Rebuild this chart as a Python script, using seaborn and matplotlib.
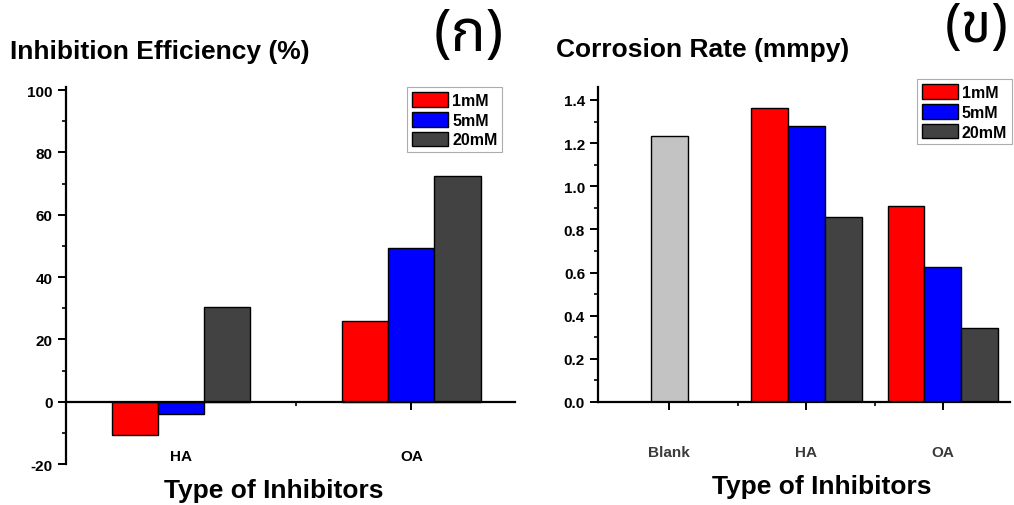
import pandas as pd
import matplotlib
matplotlib.use("Agg")
import matplotlib.pyplot as plt
import seaborn as sns
from matplotlib.patches import Patch

sns.set_theme(style="white")
plt.rcParams['font.family'] = ['Liberation Sans', 'DejaVu Sans']
plt.rcParams['axes.unicode_minus'] = False
plt.rcParams['text.color'] = 'black'
thai_fonts = ['Noto Sans Thai', 'Noto Sans Thai Looped', 'Bai Jamjuree', 'DejaVu Sans']

# -------------------------------
# DATA
# -------------------------------
conc_levels = ["1mM", "5mM", "20mM"]
conc_colors = ["#ff0000", "#0000ff", "#424242"]
blank_color = "#c3c3c3"

ie_inhibitors = ["HA", "OA"]
ie_1mM = [-10.8, 26.0]
ie_5mM = [-3.9, 49.2]
ie_20mM = [30.5, 72.3]

cr_order = ["Blank", "HA", "OA"]
cr_blank = 1.233
cr_inhibitors = ["HA", "OA"]
cr_1mM = [1.362, 0.908]
cr_5mM = [1.278, 0.624]
cr_20mM = [0.856, 0.342]

ie_df = pd.DataFrame({
    "inhibitor": ie_inhibitors * 3,
    "conc": [c for c in conc_levels for _ in ie_inhibitors],
    "value": ie_1mM + ie_5mM + ie_20mM,
})
cr_df = pd.DataFrame({
    "inhibitor": cr_inhibitors * 3,
    "conc": [c for c in conc_levels for _ in cr_inhibitors],
    "value": cr_1mM + cr_5mM + cr_20mM,
})

fig = plt.figure(figsize=(10.14, 5.06), dpi=100)
ax1 = fig.add_axes([0.065, 0.081, 0.443, 0.745])
ax2 = fig.add_axes([0.590, 0.2036, 0.406, 0.6224])


def style_axis(ax):
    for s in ["top", "right"]:
        ax.spines[s].set_visible(False)
    for s in ["left", "bottom"]:
        ax.spines[s].set_color("black")
        ax.spines[s].set_linewidth(1.6)
    ax.tick_params(axis="both", which="both", bottom=True, left=True,
                   direction="out", color="black")
    ax.tick_params(axis="both", which="major", length=6, width=1.4,
                   labelsize=11, labelcolor="black")
    ax.tick_params(axis="both", which="minor", length=3, width=1.2)
    for lab in ax.get_xticklabels() + ax.get_yticklabels():
        lab.set_fontweight("bold")
    ax.set_xlabel("")
    ax.set_ylabel("")


def add_legend(ax, anchor):
    handles = [Patch(facecolor=c, edgecolor="black", linewidth=1.0, label=l)
               for c, l in zip(conc_colors, conc_levels)]
    leg = ax.legend(handles=handles, loc="upper left", bbox_to_anchor=anchor,
                    frameon=True, fancybox=False, fontsize=11.5,
                    handlelength=2.25, handleheight=1.05, labelspacing=0.25,
                    handletextpad=0.25, borderpad=0.3, borderaxespad=0)
    leg.get_frame().set_edgecolor("#999999")
    leg.get_frame().set_linewidth(0.8)
    for t in leg.get_texts():
        t.set_fontweight("bold")


# -------------------------------
# (ก) INHIBITION EFFICIENCY
# -------------------------------
sns.barplot(data=ie_df, x="inhibitor", y="value", hue="conc",
            order=ie_inhibitors, hue_order=conc_levels, palette=conc_colors,
            width=0.6, edgecolor="black", linewidth=1.0, saturation=1,
            errorbar=None, legend=False, ax=ax1)
ax1.set_xlim(-0.5, 1.45)
ax1.set_ylim(-20, 101)
ax1.set_yticks([-20, 0, 20, 40, 60, 80, 100])
ax1.set_yticks([-10, 10, 30, 50, 70, 90], minor=True)
ax1.set_xticks([0.5], minor=True)
ax1.spines["bottom"].set_position(("data", 0))
style_axis(ax1)
ax1.tick_params(axis="x", which="major", pad=28)
add_legend(ax1, (0.76, 1.0))

# -------------------------------
# (ข) CORROSION RATE
# -------------------------------
sns.barplot(data=cr_df, x="inhibitor", y="value", hue="conc",
            order=cr_order, hue_order=conc_levels, palette=conc_colors,
            width=0.81, edgecolor="black", linewidth=1.0, saturation=1,
            errorbar=None, legend=False, ax=ax2)
sns.barplot(x=["Blank"], y=[cr_blank], order=cr_order, color=blank_color,
            width=0.27, edgecolor="black", linewidth=1.0, saturation=1,
            errorbar=None, ax=ax2)
ax2.set_xlim(-0.52, 2.49)
ax2.set_ylim(0, 1.46)
ax2.set_yticks([0.0, 0.2, 0.4, 0.6, 0.8, 1.0, 1.2, 1.4])
ax2.set_yticks([0.1, 0.3, 0.5, 0.7, 0.9, 1.1, 1.3], minor=True)
ax2.set_yticklabels([f"{v:.1f}" for v in ax2.get_yticks()])
ax2.set_xticks([0.5, 1.5], minor=True)
style_axis(ax2)
ax2.tick_params(axis="x", which="major", pad=25, labelcolor="#3a3a3a")
add_legend(ax2, (0.774, 1.025))

# -------------------------------
# TEXT
# -------------------------------
bold = dict(fontweight="bold")
fig.text(0.010, 0.897, "Inhibition Efficiency (%)", fontsize=19, va="center", **bold)
fig.text(0.548, 0.901, "Corrosion Rate (mmpy)", fontsize=19, va="center", **bold)
fig.text(0.270, 0.030, "Type of Inhibitors", fontsize=19, ha="center", va="center", **bold)
fig.text(0.810, 0.038, "Type of Inhibitors", fontsize=19, ha="center", va="center", **bold)
fig.text(0.462, 0.929, "(ก)", fontsize=42, ha="center", va="center",
         family=thai_fonts)
fig.text(0.963, 0.945, "(ข)", fontsize=40, ha="center", va="center",
         family=thai_fonts, fontweight="bold")

plt.savefig("out.png", dpi=100)
plt.close()
